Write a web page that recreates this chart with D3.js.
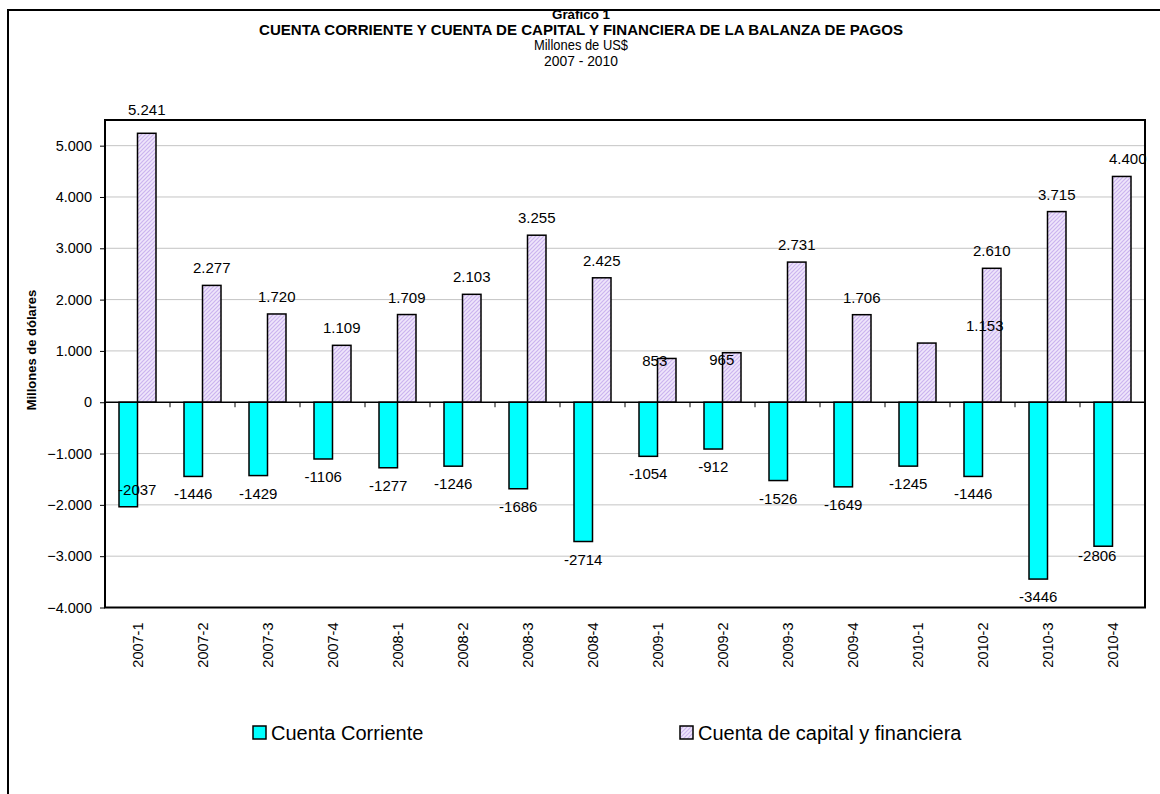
<!DOCTYPE html>
<html>
<head>
<meta charset="utf-8">
<script src="https://cdn.jsdelivr.net/npm/d3@7"></script>
<style>
  body { margin: 0; background: #fff; }
  svg { display: block; }
  text { font-family: "Liberation Sans", Arial, sans-serif; fill: #000; }
</style>
</head>
<body>
<svg id="chart" width="1160" height="794"></svg>
<script>
// data
var periods = ["2007-1","2007-2","2007-3","2007-4","2008-1","2008-2","2008-3","2008-4",
               "2009-1","2009-2","2009-3","2009-4","2010-1","2010-2","2010-3","2010-4"];
var cuentaCorriente = [-2037,-1446,-1429,-1106,-1277,-1246,-1686,-2714,
                       -1054,-912,-1526,-1649,-1245,-1446,-3446,-2806];
var cuentaCapital = [5241,2277,1720,1109,1709,2103,3255,2425,
                     853,965,2731,1706,1153,2610,3715,4400];
var yTicks = [-4000,-3000,-2000,-1000,0,1000,2000,3000,4000,5000];
var seriesNames = ["Cuenta Corriente","Cuenta de capital y financiera"];

// hand-moved data labels in the original (pixel nudges, [dx, dy])
var posLabelNudge = [[0,-6],[0,0],[0,0],[0,0],[0,0],[0,0],[0,0],[0,0],
                     [-12,20],[-10,24],[0,0],[0,0],[58,0],[0,0],[0,0],[6,0]];
var negLabelNudge = [[9,-35],[0,0],[0,0],[0,0],[0,0],[0,0],[0,0],[0,0],
                     [0,0],[0,0],[0,0],[0,0],[0,0],[0,0],[0,0],[-6,-8]];

var svg = d3.select("#chart");

// layout
var plot = {left: 105, right: 1145, top: 120, bottom: 607.5};

// pattern for the hatched bars
var defs = svg.append("defs");
var pat = defs.append("pattern")
    .attr("id", "hatch")
    .attr("patternUnits", "userSpaceOnUse")
    .attr("width", 4).attr("height", 4);
pat.append("rect").attr("width", 4).attr("height", 4).attr("fill", "#efe6fb");
pat.append("path")
    .attr("d", "M-1,1 l2,-2 M0,4 l4,-4 M3,5 l2,-2")
    .attr("stroke", "#cbb4ef").attr("stroke-width", 1.2);

// outer frame
svg.append("rect")
    .attr("x", 8).attr("y", 10).attr("width", 1300).attr("height", 1000)
    .attr("fill", "none").attr("stroke", "#000").attr("stroke-width", 2);

// titles (narrow face simulated by squeezing to the original widths)
var titles = [
  {t: "Gráfico 1", y: 18.5, size: 13, w: "bold", len: 58},
  {t: "CUENTA CORRIENTE Y CUENTA DE CAPITAL Y FINANCIERA DE LA BALANZA DE PAGOS", y: 34.5, size: 15, w: "bold", len: 644},
  {t: "Millones de US$", y: 50, size: 14, w: "normal", len: 94},
  {t: "2007 - 2010", y: 66, size: 14, w: "normal", len: 74}
];
svg.selectAll("text.title").data(titles).enter().append("text")
    .attr("class", "title")
    .attr("x", 581).attr("y", function(d) { return d.y; })
    .attr("text-anchor", "middle")
    .attr("textLength", function(d) { return d.len; })
    .attr("lengthAdjust", "spacingAndGlyphs")
    .style("font-size", function(d) { return d.size + "px"; })
    .style("font-weight", function(d) { return d.w; })
    .text(function(d) { return d.t; });

// scales
var x = d3.scaleBand()
    .domain(periods)
    .range([plot.left, plot.right]);

var y = d3.scaleLinear()
    .domain([-4000, 5500])
    .range([plot.bottom, plot.top]);

var barW = 18.5;
var fmtPos = function(v) { return d3.format(",")(v).replace(/,/g, "."); };

// gridlines
svg.append("g").selectAll("line").data(yTicks.filter(function(v) { return v !== 0; })).enter()
  .append("line")
    .attr("x1", plot.left).attr("x2", plot.right)
    .attr("y1", function(d) { return y(d); }).attr("y2", function(d) { return y(d); })
    .attr("stroke", "#c4c4c4").attr("stroke-width", 1);

// y axis
var yAxis = svg.append("g")
    .attr("transform", "translate(" + plot.left + ",0)")
    .call(d3.axisLeft(y).tickValues(yTicks).tickSize(5).tickPadding(8)
      .tickFormat(function(d) { return d3.format(",")(d).replace(/,/g, "."); }));
yAxis.select(".domain").remove();
yAxis.selectAll(".tick line").attr("stroke", "#000");
yAxis.selectAll("text").style("font-size", "14.5px").style("font-family", "Liberation Sans, Arial, sans-serif");

// y axis title
svg.append("text")
    .attr("transform", "translate(36,350) rotate(-90)")
    .attr("text-anchor", "middle")
    .style("font-size", "13px").style("font-weight", "bold")
    .text("Millones de dólares");

// bars
svg.append("g").selectAll("rect").data(cuentaCorriente).enter().append("rect")
    .attr("x", function(d, i) { return x(periods[i]) + x.bandwidth() / 2 - barW; })
    .attr("width", barW)
    .attr("y", y(0))
    .attr("height", function(d) { return y(d) - y(0); })
    .attr("fill", "#00ffff").attr("stroke", "#000").attr("stroke-width", 1.5);

svg.append("g").selectAll("rect").data(cuentaCapital).enter().append("rect")
    .attr("x", function(d, i) { return x(periods[i]) + x.bandwidth() / 2; })
    .attr("width", barW)
    .attr("y", function(d) { return y(d); })
    .attr("height", function(d) { return y(0) - y(d); })
    .attr("fill", "url(#hatch)").attr("stroke", "#000").attr("stroke-width", 1.5);

// zero axis with ticks between categories
svg.append("line")
    .attr("x1", plot.left).attr("x2", plot.right)
    .attr("y1", y(0)).attr("y2", y(0))
    .attr("stroke", "#000").attr("stroke-width", 1.5);
svg.append("g").selectAll("line").data(periods.slice(1)).enter().append("line")
    .attr("x1", function(d) { return x(d); }).attr("x2", function(d) { return x(d); })
    .attr("y1", y(0)).attr("y2", y(0) + 5)
    .attr("stroke", "#000");

// plot frame
svg.append("rect")
    .attr("x", plot.left).attr("y", plot.top)
    .attr("width", plot.right - plot.left).attr("height", plot.bottom - plot.top)
    .attr("fill", "none").attr("stroke", "#000").attr("stroke-width", 2);

// value labels
svg.append("g").selectAll("text").data(cuentaCapital).enter().append("text")
    .attr("x", function(d, i) { return x(periods[i]) + x.bandwidth() / 2 + barW / 2 + posLabelNudge[i][0]; })
    .attr("y", function(d, i) { return y(d) - 12 + posLabelNudge[i][1]; })
    .attr("text-anchor", "middle")
    .style("font-size", "15px")
    .text(function(d) { return fmtPos(d); });

svg.append("g").selectAll("text").data(cuentaCorriente).enter().append("text")
    .attr("x", function(d, i) { return x(periods[i]) + x.bandwidth() / 2 - barW / 2 + negLabelNudge[i][0]; })
    .attr("y", function(d, i) { return y(d) + 23 + negLabelNudge[i][1]; })
    .attr("text-anchor", "middle")
    .style("font-size", "15px")
    .text(function(d) { return d; });

// category labels
svg.append("g").selectAll("text").data(periods).enter().append("text")
    .attr("transform", function(d) {
      return "translate(" + (x(d) + x.bandwidth() / 2 + 5) + "," + (plot.bottom + 15) + ") rotate(-90)";
    })
    .attr("text-anchor", "end")
    .style("font-size", "14.5px")
    .text(function(d) { return d; });

// legend
var legendItems = [
  {name: seriesNames[0], x: 253, fill: "#00ffff"},
  {name: seriesNames[1], x: 680, fill: "url(#hatch)"}
];
var lg = svg.append("g").selectAll("g").data(legendItems).enter().append("g")
    .attr("transform", function(d) { return "translate(" + d.x + ",726)"; });
lg.append("rect")
    .attr("width", 13).attr("height", 13)
    .attr("fill", function(d) { return d.fill; })
    .attr("stroke", "#000").attr("stroke-width", 1.5);
lg.append("text")
    .attr("x", 18).attr("y", 13.5)
    .style("font-size", "20px")
    .text(function(d) { return d.name; });
</script>
</body>
</html>
